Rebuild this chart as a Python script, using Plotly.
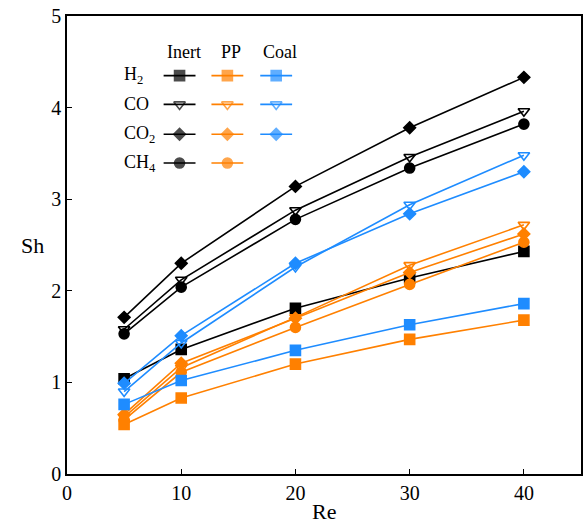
import plotly.graph_objects as go

re_vals = [5, 10, 20, 30, 40]

inert_h2 = [1.04, 1.36, 1.81, 2.14, 2.43]
inert_co = [1.58, 2.12, 2.88, 3.46, 3.96]
inert_co2 = [1.71, 2.30, 3.14, 3.78, 4.33]
inert_ch4 = [1.53, 2.04, 2.78, 3.34, 3.82]

pp_h2 = [0.54, 0.83, 1.20, 1.47, 1.68]
pp_co = [0.62, 1.16, 1.71, 2.28, 2.72]
pp_co2 = [0.65, 1.21, 1.70, 2.20, 2.62]
pp_ch4 = [0.59, 1.11, 1.60, 2.07, 2.53]

coal_h2 = [0.76, 1.02, 1.35, 1.63, 1.86]
coal_co = [0.90, 1.43, 2.26, 2.94, 3.48]
coal_co2 = [0.99, 1.51, 2.30, 2.84, 3.30]

gas_labels = ["H<sub>2</sub>", "CO", "CO<sub>2</sub>", "CH<sub>4</sub>"]
group_labels = ["Inert", "PP", "Coal"]
x_ticks = [0, 10, 20, 30, 40]
y_ticks = [0, 1, 2, 3, 4, 5]

BLACK = "#000000"
ORANGE = "#FF8000"
BLUE = "#1E8CFF"
FONT = "Liberation Serif, Times New Roman, serif"

symbols = {"H2": "square", "CO": "triangle-down-open", "CO2": "diamond", "CH4": "circle"}
sizes = {"H2": 10, "CO": 10, "CO2": 9, "CH4": 10}

series = [
    ("Inert", "H2", inert_h2, BLACK),
    ("Inert", "CO", inert_co, BLACK),
    ("Inert", "CO2", inert_co2, BLACK),
    ("Inert", "CH4", inert_ch4, BLACK),
    ("PP", "H2", pp_h2, ORANGE),
    ("PP", "CO", pp_co, ORANGE),
    ("PP", "CO2", pp_co2, ORANGE),
    ("PP", "CH4", pp_ch4, ORANGE),
    ("Coal", "H2", coal_h2, BLUE),
    ("Coal", "CO", coal_co, BLUE),
    ("Coal", "CO2", coal_co2, BLUE),
]

fig = go.Figure()
for grp, gas, vals, col in series:
    fig.add_trace(go.Scatter(
        x=re_vals, y=vals, mode="lines+markers",
        line=dict(color=col, width=1.6),
        marker=dict(symbol=symbols[gas], size=sizes[gas], color=col,
                    line=dict(color=col, width=1.6)),
        name=f"{grp} {gas}", showlegend=False,
    ))

# custom legend key drawn on an overlay axis (layout units matching the plot area)
col_x = {"Inert": 180, "PP": 228, "Coal": 277}
row_y = {"H2": 73, "CO": 102, "CO2": 132, "CH4": 161}
for grp, gas, vals, col in series:
    cx = col_x[grp]
    cy = row_y[gas]
    fig.add_trace(go.Scatter(
        x=[cx - 16, cx, cx + 16], y=[cy, cy, cy], mode="lines+markers",
        xaxis="x2", yaxis="y2",
        line=dict(color=col, width=1.6),
        marker=dict(symbol=symbols[gas], size=[0, sizes[gas], 0], color=col,
                    line=dict(color=col, width=1.6)),
        showlegend=False, hoverinfo="skip",
    ))

annotations = []
for grp in group_labels:
    annotations.append(dict(x=col_x[grp] + 4, y=49, xref="x2", yref="y2", text=grp,
                            showarrow=False, font=dict(family=FONT, size=18, color="black")))
for lab, gas in zip(gas_labels, ["H2", "CO", "CO2", "CH4"]):
    annotations.append(dict(x=122, y=row_y[gas], xref="x2", yref="y2", text=lab,
                            xanchor="left", showarrow=False,
                            font=dict(family=FONT, size=18, color="black")))
annotations.append(dict(x=-0.068, y=0.5, xref="paper", yref="paper", text="Sh",
                        showarrow=False, xanchor="center", yanchor="middle",
                        font=dict(family=FONT, size=22, color="black")))
annotations.append(dict(x=0.5, y=-0.05, xref="paper", yref="paper", text="Re",
                        showarrow=False, xanchor="center", yanchor="top",
                        font=dict(family=FONT, size=22, color="black")))

axis_common = dict(showgrid=False, zeroline=False, showline=True, linecolor="black",
                   linewidth=1.5, mirror=True, ticks="inside", ticklen=5,
                   tickwidth=1.2, tickcolor="black",
                   tickfont=dict(family=FONT, size=20, color="black"))

fig.update_layout(
    width=588, height=525,
    margin=dict(l=67, r=5, t=13, b=51),
    paper_bgcolor="white", plot_bgcolor="white",
    font=dict(family=FONT, color="black"),
    xaxis=dict(range=[0, 45], tickvals=x_ticks, **axis_common),
    yaxis=dict(range=[0, 5], tickvals=y_ticks, **axis_common),
    xaxis2=dict(range=[67, 583], overlaying="x", visible=False, fixedrange=True),
    yaxis2=dict(range=[474, 13], overlaying="y", visible=False, fixedrange=True),
    annotations=annotations,
)

fig.write_html("out.html", config={"displayModeBar": False},
               post_script="document.body.style.margin='0';")
